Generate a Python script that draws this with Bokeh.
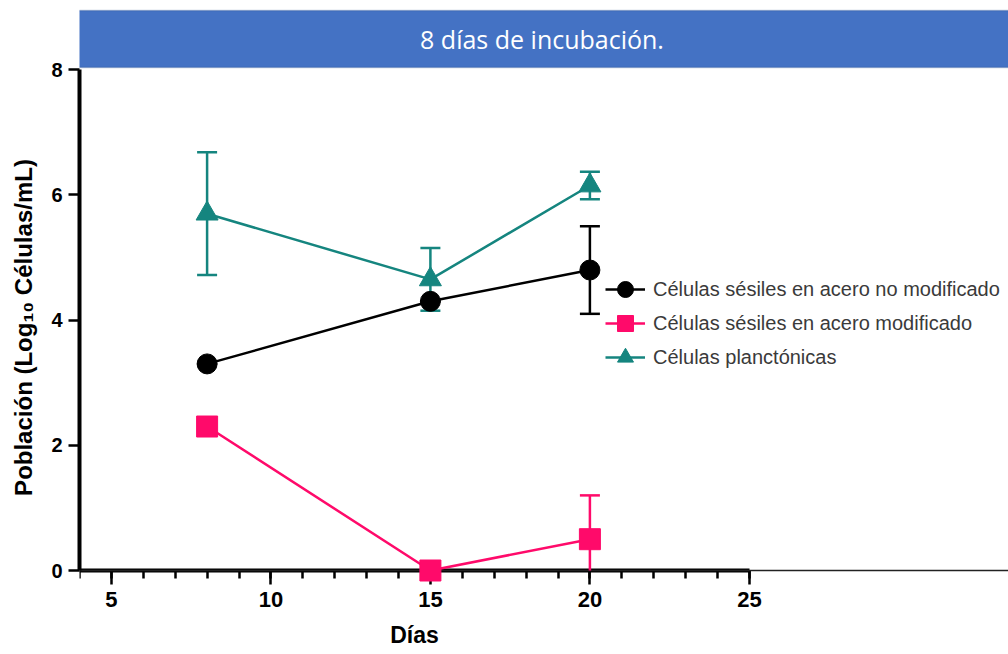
from bokeh.plotting import figure
from bokeh.models import (Range1d, FixedTicker, Whisker, TeeHead, ColumnDataSource,
                          Legend, LegendItem, BoxAnnotation, Label, Span)
from bokeh.embed import file_html
from bokeh.resources import INLINE
import numpy as np

# Days of sampling
dias = [8, 15, 20]

# Log10 cells/mL, mean and standard deviation
no_modificado = [3.3, 4.3, 4.8]
no_modificado_sd = [0.0, 0.0, 0.7]
modificado = [2.3, 0.0, 0.5]
modificado_sd = [0.1, 0.1, 0.7]
planctonicas = [5.7, 4.65, 6.15]
planctonicas_sd = [0.98, 0.5, 0.22]

series_labels = ["Células sésiles en acero no modificado",
                 "Células sésiles en acero modificado",
                 "Células planctónicas"]
x_ticks = [5, 10, 15, 20, 25]
x_minor = list(range(4, 26))
y_ticks = [0, 2, 4, 6, 8]
titulo = "8 días de incubación."
x_label = "Días"
y_label = "Población (Log\u2081\u2080 Células/mL)"

# ---- layout (pixels) ----
W, H = 1008, 654
LEFT = 79          # frame left edge
ORIGIN_Y = 570     # pixel row of y = 0
X_PX = 31.9        # pixels per day
Y_PX = 62.6        # pixels per log unit

x_start = 4
x_end = x_start + (W - LEFT) / X_PX
y_end = ORIGIN_Y / Y_PX
y_start = y_end - H / Y_PX

p = figure(width=W, height=H,
           x_range=Range1d(x_start, x_end), y_range=Range1d(y_start, y_end),
           output_backend="svg", toolbar_location=None,
           min_border_left=LEFT, min_border_right=0,
           min_border_top=0, min_border_bottom=0)
p.outline_line_color = None
p.xgrid.visible = False
p.ygrid.visible = False
p.background_fill_color = "white"
p.border_fill_color = "white"

TICK_FONT = "Liberation Sans"

# x axis sits on y = 0
xa = p.xaxis[0]
xa.fixed_location = 0
xa.bounds = (4, 25)
xa.level = "underlay"
xa.ticker = FixedTicker(ticks=x_ticks, minor_ticks=x_minor)
xa.axis_line_width = 4
xa.axis_line_color = "black"
xa.major_tick_line_width = 2.5
xa.major_tick_line_color = "black"
xa.major_tick_out = 14
xa.major_tick_in = 0
xa.minor_tick_line_width = 2.5
xa.minor_tick_line_color = "black"
xa.minor_tick_out = 8
xa.minor_tick_in = 0
xa.major_label_text_font = TICK_FONT
xa.major_label_text_font_style = "bold"
xa.major_label_text_font_size = "22px"
xa.major_label_text_color = "black"
xa.major_label_standoff = 7
xa.axis_label = x_label
xa.axis_label_text_font = TICK_FONT
xa.axis_label_text_font_style = "bold"
xa.axis_label_text_font_size = "23px"
xa.axis_label_text_color = "black"
xa.axis_label_standoff = 12

ya = p.yaxis[0]
ya.bounds = (0, 8)
ya.ticker = FixedTicker(ticks=y_ticks, minor_ticks=[])
ya.axis_line_width = 4
ya.axis_line_color = "black"
ya.major_tick_line_width = 2.5
ya.major_tick_line_color = "black"
ya.major_tick_out = 11
ya.major_tick_in = 0
ya.minor_tick_line_color = None
ya.major_label_text_font = TICK_FONT
ya.major_label_text_font_style = "bold"
ya.major_label_text_font_size = "20px"
ya.major_label_text_color = "black"
ya.major_label_standoff = 6
ya.axis_label = y_label
ya.axis_label_text_font = TICK_FONT
ya.axis_label_text_font_style = "bold"
ya.axis_label_text_font_size = "24px"
ya.axis_label_text_color = "black"
ya.axis_label_standoff = 11

# thin baseline continuing to the right of the axis
p.add_layout(Span(location=0, dimension="width", line_color="#222222",
                  line_width=1.5, level="underlay"))

# title banner
ban_top = (ORIGIN_Y - 10) / Y_PX
ban_bottom = (ORIGIN_Y - 67) / Y_PX
ban_left = x_start - 4 / X_PX
p.add_layout(BoxAnnotation(left=ban_left, right=x_end + 1, bottom=ban_bottom, top=ban_top,
                           fill_color="#4472C4", fill_alpha=1.0,
                           line_color="#2F528F", line_width=1.5))
p.add_layout(Label(x=(ban_left + x_end) / 2, y=(ban_top + ban_bottom) / 2, text=titulo,
                   text_align="center", text_baseline="middle", text_color="white",
                   text_font="Open Sans", text_font_size="25px"))

BLACK = "#000000"
PINK = "#FF0A6A"
TEAL = "#15857F"


def add_series(yvals, sd, color, marker, size, clip_low=False, lower_cap=True):
    y = np.array(yvals, dtype=float)
    e = np.array(sd, dtype=float)
    lower = y - e
    if clip_low:
        lower = np.maximum(lower, 0.0)
    src = ColumnDataSource(dict(x=dias, y=y, upper=y + e, lower=lower))
    w = Whisker(base="x", upper="upper", lower="lower", source=src, dimension="height",
                line_color=color, line_width=2.5,
                upper_head=TeeHead(size=20, line_color=color, line_width=2.5),
                lower_head=TeeHead(size=20, line_color=color, line_width=2.5) if lower_cap else None)
    p.add_layout(w)
    ln = p.line("x", "y", source=src, line_color=color, line_width=2.5)
    sc = p.scatter("x", "y", source=src, marker=marker, size=size,
                   fill_color=color, line_color=color)
    return ln, sc


r_teal = add_series(planctonicas, planctonicas_sd, TEAL, "triangle", 22)
r_pink = add_series(modificado, modificado_sd, PINK, "square", 21, clip_low=True, lower_cap=False)
r_black = add_series(no_modificado, no_modificado_sd, BLACK, "circle", 20)

# one legend box per entry so the rows can sit closer than the glyph box height
GLYPH = 40
row_centers = [289, 323, 357]     # pixel rows of the legend entries
for label, rends, cy in zip(series_labels, [r_black, r_pink, r_teal], row_centers):
    lg = Legend(items=[LegendItem(label=label, renderers=list(rends))],
                location=(605 - LEFT, H - cy - GLYPH / 2),
                glyph_width=GLYPH, glyph_height=GLYPH, label_height=20,
                padding=0, margin=0, label_standoff=8,
                border_line_color=None, background_fill_alpha=0,
                label_text_font="Liberation Sans", label_text_font_size="20px",
                label_text_color="#3a3a3a")
    p.add_layout(lg)

open("out.html", "w").write(file_html(p, INLINE))
